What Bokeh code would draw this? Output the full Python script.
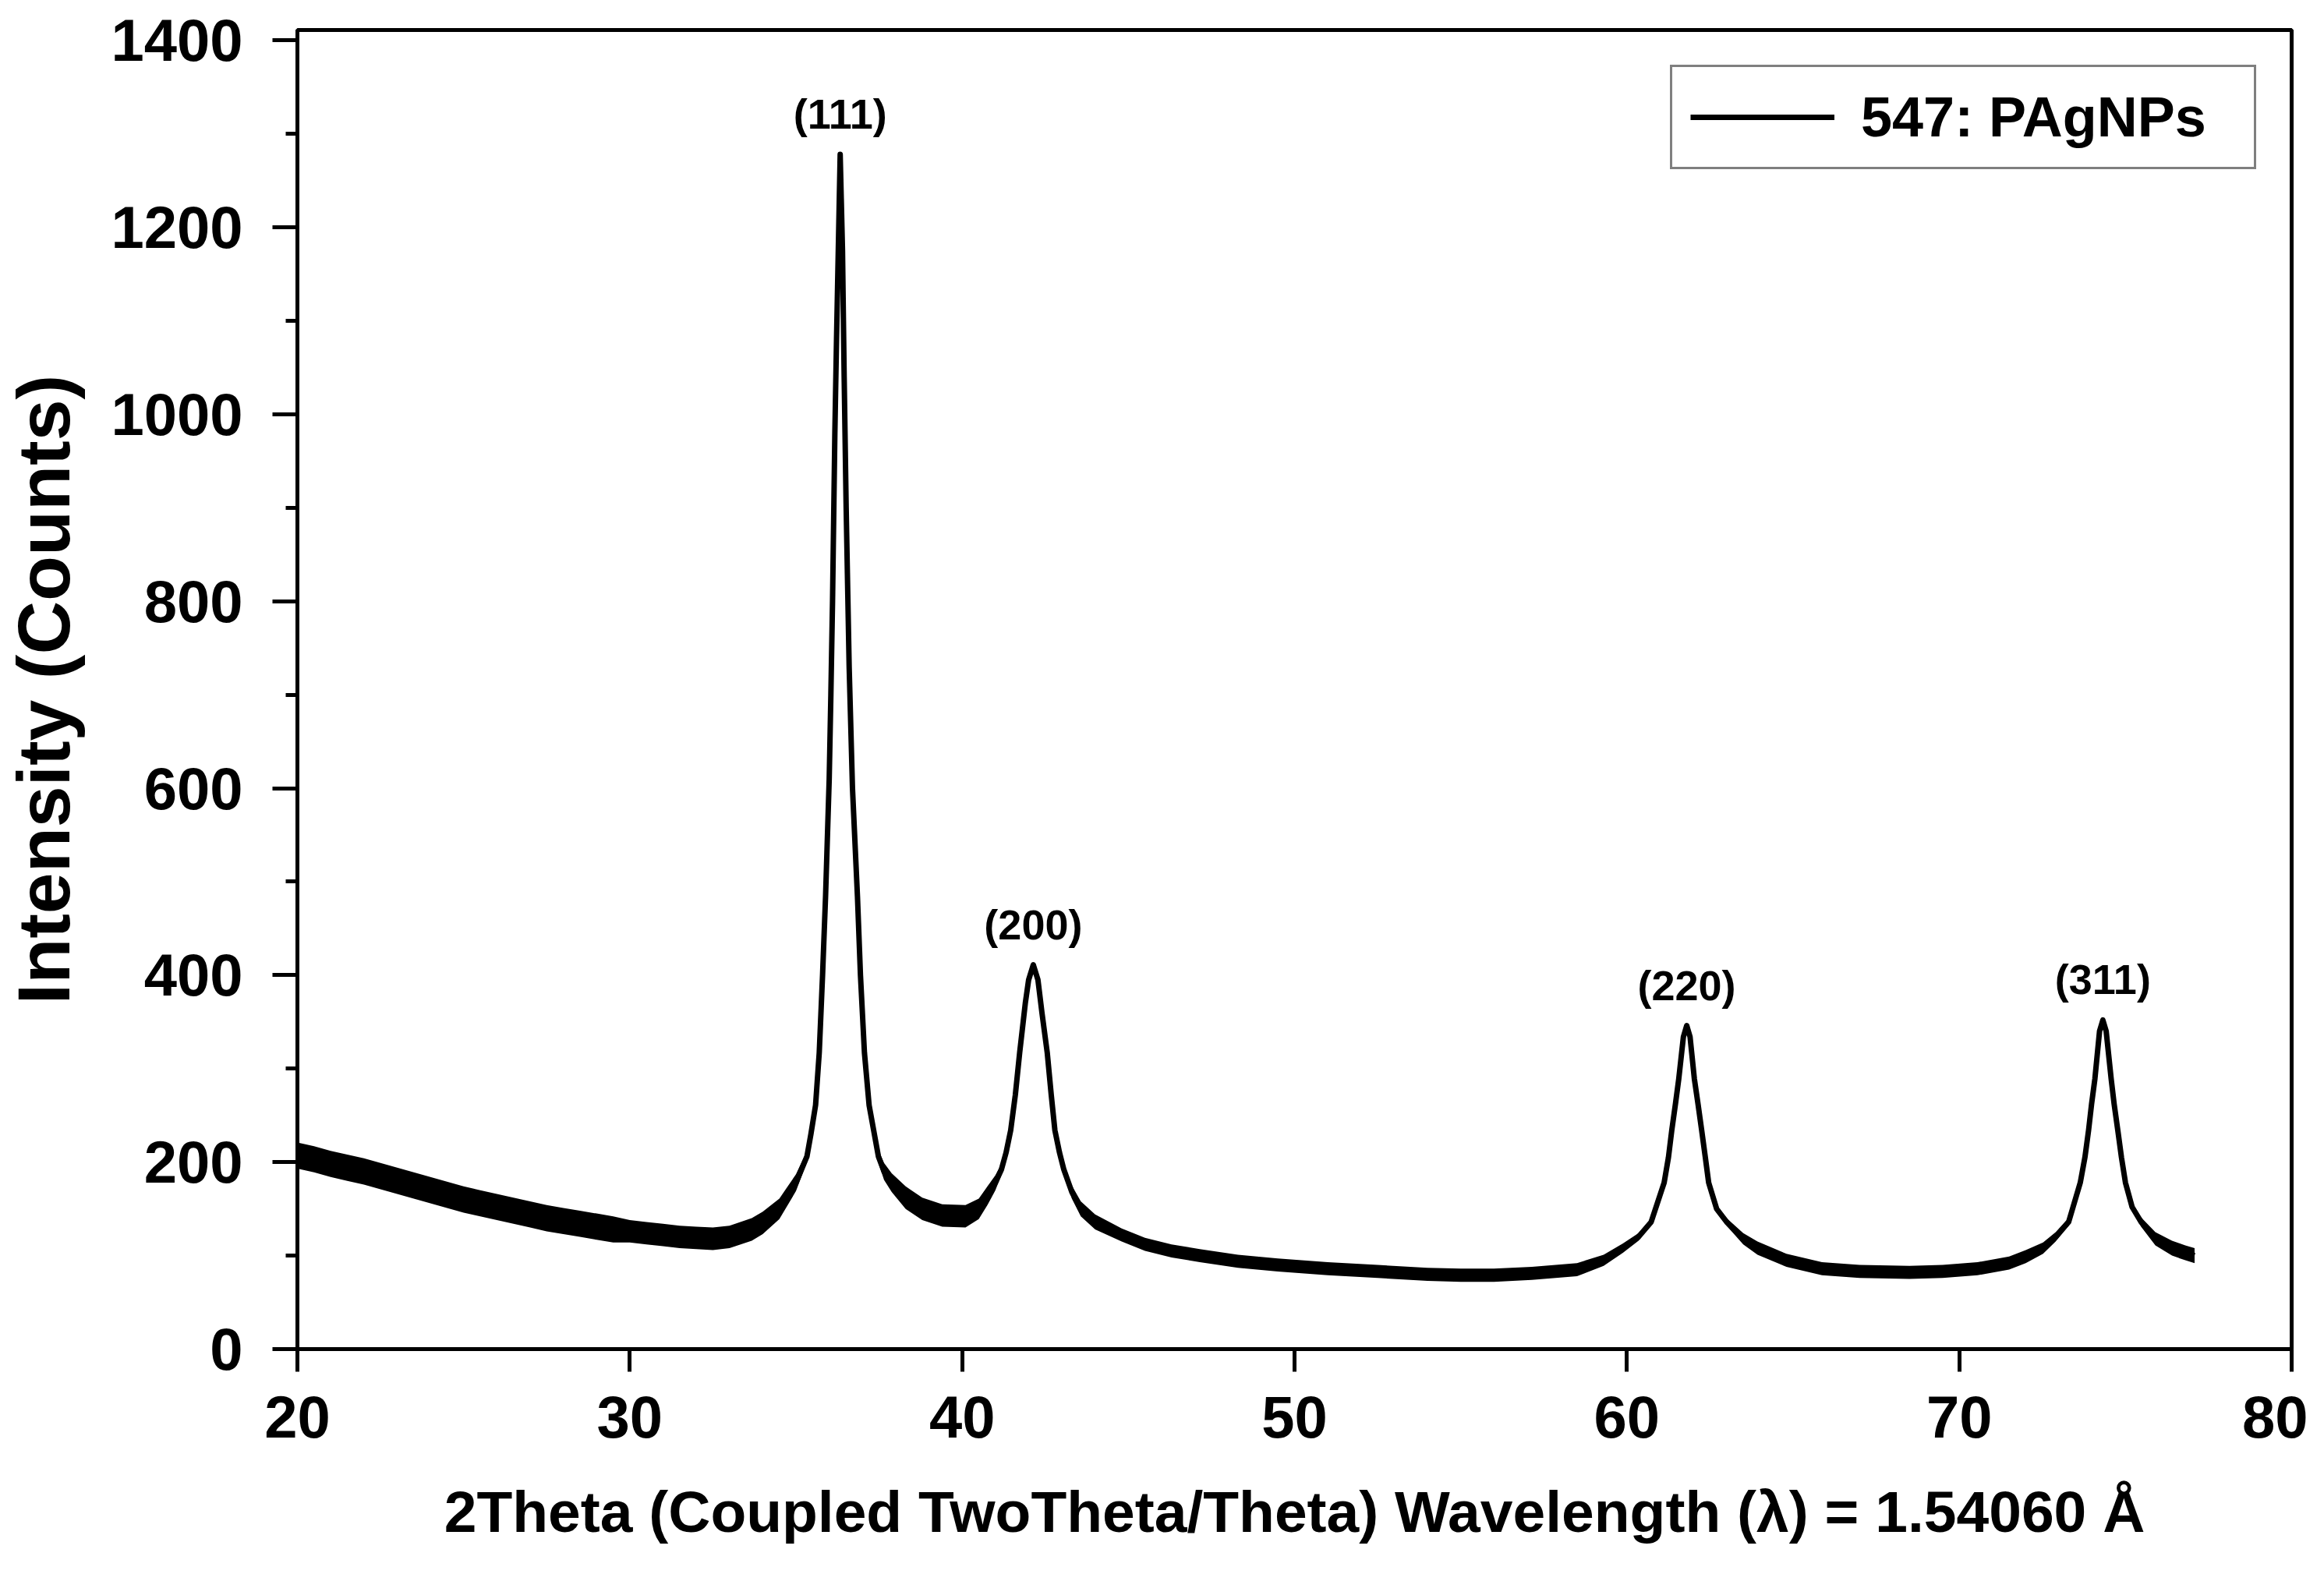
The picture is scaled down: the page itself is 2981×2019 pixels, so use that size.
import numpy as np
from bokeh.plotting import figure
from bokeh.models import ColumnDataSource, Range1d, FixedTicker, Legend, LegendItem
from bokeh.core.properties import value
from bokeh.embed import file_html
from bokeh.resources import INLINE

# XRD pattern: 2theta (deg), intensity (counts),
# and half-width of the noisy band around the trace (counts)
two_theta = [
    20.0, 20.5, 21.0, 21.5, 22.0, 22.5, 23.0, 23.5, 24.0, 24.5,
    25.0, 25.5, 26.0, 26.5, 27.0, 27.5, 28.0, 28.5, 29.0, 29.5,
    30.0, 30.5, 31.0, 31.5, 32.0, 32.5, 33.0, 33.67, 34.0, 34.5,
    35.0, 35.33, 35.45, 35.59, 35.7, 35.8, 35.89, 36.0, 36.05, 36.1,
    36.17, 36.22, 36.27, 36.33, 36.4, 36.45, 36.51, 36.6, 36.7, 36.85,
    36.94, 37.06, 37.2, 37.48, 37.65, 37.88, 38.3, 38.8, 39.4, 40.1,
    40.5, 40.76, 41.0, 41.18, 41.32, 41.46, 41.6, 41.73, 41.9, 42.0,
    42.14, 42.28, 42.4, 42.56, 42.68, 42.79, 42.93, 43.06, 43.3, 43.57,
    44.0, 44.8, 45.5, 46.3, 47.15, 48.3, 49.5, 51.0, 52.5, 54.0,
    55.0, 56.0, 57.14, 58.5, 59.3, 59.88, 60.35, 60.73, 61.12, 61.25,
    61.35, 61.46, 61.56, 61.7, 61.8, 61.9, 62.03, 62.14, 62.25, 62.36,
    62.46, 62.7, 63.0, 63.5, 63.93, 64.8, 65.87, 67.0, 68.5, 69.5,
    70.55, 71.5, 72.0, 72.52, 72.9, 73.29, 73.64, 73.78, 73.89, 73.98,
    74.08, 74.22, 74.32, 74.42, 74.57, 74.66, 74.77, 74.88, 75.0, 75.2,
    75.47, 75.9, 76.4, 76.8, 77.08,
]
counts = [
    207, 203, 198, 194, 190, 185, 180, 175, 170, 165,
    160, 156, 152, 148, 144, 140, 137, 134, 131, 128,
    126, 124, 122, 120, 119, 118, 120, 128, 135, 150,
    178, 206, 230, 261, 317, 400, 484, 610, 700, 800,
    980, 1080, 1170, 1278, 1175, 1040, 900, 730, 600, 484,
    400, 317, 261, 206, 190, 178, 162, 150, 143, 142,
    150, 164, 178, 192, 210, 234, 272, 317, 370, 395,
    411, 395, 360, 317, 272, 234, 210, 192, 168, 150,
    136, 122, 112, 105, 100, 94, 90, 86, 83, 80,
    79, 79, 81, 85, 95, 108, 120, 136, 178, 205,
    234, 262, 289, 334, 346, 334, 289, 262, 234, 205,
    178, 150, 136, 118, 108, 95, 86, 83, 82, 83,
    86, 92, 99, 108, 120, 136, 178, 205, 234, 262,
    289, 340, 352, 340, 289, 262, 234, 205, 178, 152,
    136, 118, 108, 103, 100,
]
noise = [
    14, 14, 14, 14, 14, 14, 14, 14, 14, 14,
    14, 14, 14, 14, 14, 14, 14, 14, 14, 14,
    12, 12, 12, 12, 12, 12, 12, 12, 12, 11,
    9, 6, 5, 4, 2, 0, 0, 0, 0, 0,
    0, 0, 0, 0, 0, 0, 0, 0, 0, 0,
    0, 2, 4, 7, 9, 10, 12, 12, 12, 12,
    11, 10, 8, 6, 4, 3, 0, 0, 0, 0,
    0, 0, 0, 0, 0, 3, 4, 5, 7, 8,
    8, 7, 7, 7, 7, 7, 7, 7, 7, 7,
    7, 7, 7, 7, 6, 5, 4, 3, 2, 0,
    0, 0, 0, 0, 0, 0, 0, 0, 0, 0,
    0, 2, 4, 6, 7, 7, 7, 7, 7, 7,
    7, 7, 7, 6, 5, 4, 2, 0, 0, 0,
    0, 0, 0, 0, 0, 0, 0, 0, 0, 2,
    5, 7, 8, 8, 8,
]

peak_labels = ["(111)", "(200)", "(220)", "(311)"]
peak_theta = [36.33, 42.14, 61.8, 74.32]
peak_counts = [1278, 411, 346, 352]

x_ticks = [20, 30, 40, 50, 60, 70, 80]
y_ticks = [0, 200, 400, 600, 800, 1000, 1200, 1400]
y_minor = [100, 300, 500, 700, 900, 1100, 1300]

FONT = "Liberation Sans"

theta = np.array(two_theta, dtype=float)
inten = np.array(counts, dtype=float)
spread = np.array(noise, dtype=float)
src = ColumnDataSource(dict(x=theta, y=inten, lo=inten - spread, hi=inten + spread))

p = figure(width=2960, height=1998,
           x_range=Range1d(20, 80), y_range=Range1d(0, 1411),
           output_backend="svg", toolbar_location=None,
           min_border_left=365, min_border_right=21,
           min_border_top=38, min_border_bottom=268)
p.background_fill_color = "white"
p.border_fill_color = "white"
p.outline_line_color = "black"
p.outline_line_width = 5
p.outline_line_alpha = 1.0
p.xgrid.visible = False
p.ygrid.visible = False

# noisy band + trace
p.varea(x="x", y1="lo", y2="hi", source=src, fill_color="black")
trace = p.line("x", "y", source=src, line_color="black", line_width=7, line_join="round")

# peak labels
lbl_src = ColumnDataSource(dict(x=peak_theta, y=peak_counts, t=peak_labels))
p.text(x="x", y="y", text="t", source=lbl_src, text_align="center",
       text_baseline="bottom", y_offset=-22, text_color="black",
       text_font=value(FONT), text_font_style="bold", text_font_size="54px")

# axes
p.xaxis.ticker = FixedTicker(ticks=x_ticks, minor_ticks=[])
p.yaxis.ticker = FixedTicker(ticks=y_ticks, minor_ticks=y_minor)
p.xaxis.axis_label = "2Theta (Coupled TwoTheta/Theta) Wavelength (\u03bb) = 1.54060 \u00c5"
p.yaxis.axis_label = "Intensity (Counts)"

for ax in (p.xaxis[0], p.yaxis[0]):
    ax.axis_line_color = "black"
    ax.axis_line_width = 5
    ax.major_tick_line_color = "black"
    ax.major_tick_line_width = 5
    ax.minor_tick_line_color = "black"
    ax.minor_tick_line_width = 5
    ax.major_tick_in = 0
    ax.minor_tick_in = 0
    ax.major_label_text_font = FONT
    ax.major_label_text_font_style = "bold"
    ax.major_label_text_font_size = "76px"
    ax.major_label_text_color = "black"
    ax.axis_label_text_font = FONT
    ax.axis_label_text_font_style = "bold"
    ax.axis_label_text_color = "black"

p.xaxis.major_tick_out = 29
p.xaxis.minor_tick_out = 0
p.xaxis.major_label_standoff = 31
p.xaxis.axis_label_standoff = 50
p.xaxis.axis_label_text_font_size = "75px"

p.yaxis.major_tick_out = 32
p.yaxis.minor_tick_out = 15
p.yaxis.major_label_standoff = 38
p.yaxis.axis_label_standoff = 30
p.yaxis.axis_label_text_font_size = "95px"

# legend
legend = Legend(items=[LegendItem(label="547: PAgNPs", renderers=[trace])],
                location="top_right", margin=45, padding=23,
                glyph_width=185, glyph_height=70, label_height=70,
                label_width=481, label_standoff=34,
                label_text_font=FONT, label_text_font_style="bold",
                label_text_font_size="72px", label_text_color="black",
                border_line_color="black", border_line_width=3,
                background_fill_color="white", background_fill_alpha=1.0)
p.add_layout(legend)

open("out.html", "w").write(file_html(p, INLINE))
